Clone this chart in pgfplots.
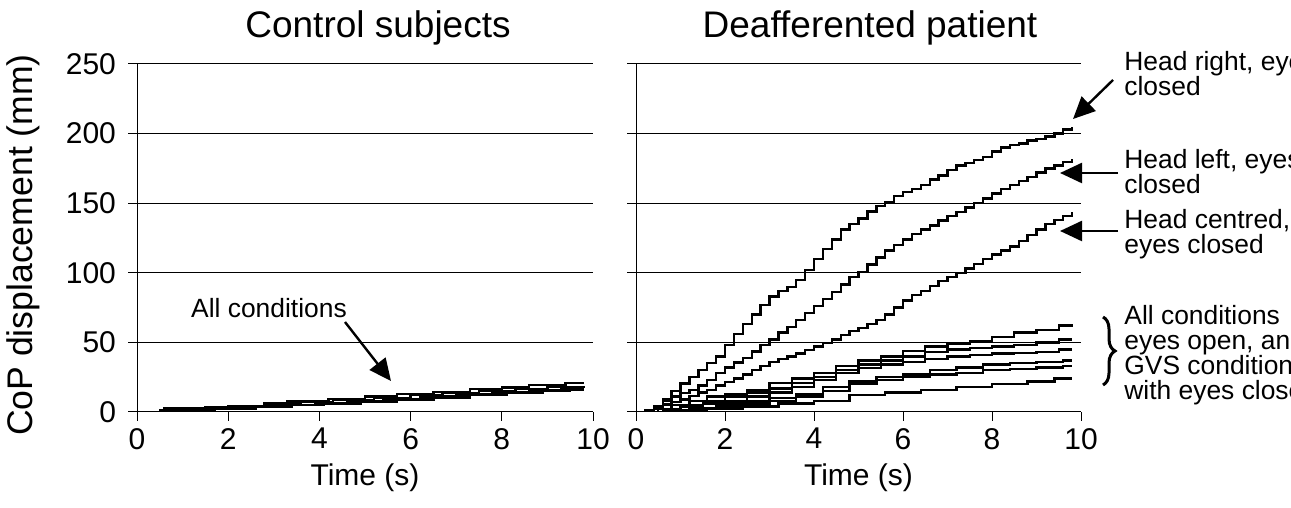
\documentclass[border=0pt]{standalone}
\usepackage{fontspec}
\setmainfont{Liberation Sans}
\usepackage{pgfplots}
\pgfplotsset{compat=1.18}
\usetikzlibrary{arrows.meta,decorations.pathreplacing}

\pgfplotsset{
  panel/.style={
    scale only axis, height=174pt, anchor=south west,
    xmin=0, xmax=10, ymin=0, ymax=250,
    xtick={0,2,...,10}, ytick={0,50,...,250},
    axis x line*=bottom, axis y line*=left,
    ymajorgrids, grid style={black, line width=0.5pt},
    tick align=outside, major tick length=4.5pt,
    tick style={black, line width=0.5pt},
    axis line style={line width=0.5pt},
    const plot,
    cycle list={{black, mark=none}},
    every axis plot/.append style={line width=1.2pt},
    tick label style={font=\fontsize{15}{15}\selectfont},
    yticklabel style={xshift=-2.5pt},
    /pgf/number format/assume math mode=true,
  }
}

\begin{document}
\begin{tikzpicture}
\useasboundingbox (0,0) rectangle (645.5pt,254pt);
\clip (0,0) rectangle (645.5pt,254pt);

% control subjects
\begin{axis}[panel, at={(68.5pt,48pt)}, width=228pt]
  \addplot coordinates {(0,0) (0.6,2.5) (1.5,3.5) (2.0,4.5) (2.8,6) (3.3,7.5) (4.2,9.5) (5.0,11) (5.7,13) (6.5,14.5) (7.3,16.5) (8.0,17.5) (8.6,19.5) (9.4,21) (9.8,21)};
  \addplot coordinates {(0,0) (0.5,1.5) (1.2,3) (2.0,4) (2.9,5.5) (3.6,7) (4.3,8.5) (5.2,10) (6.0,12) (6.7,13.5) (7.5,15) (8.3,16.5) (9.0,18) (9.8,19)};
  \addplot coordinates {(0,0) (0.6,1.5) (1.4,2.5) (2.3,3.5) (3.0,5) (3.9,6.5) (4.6,8) (5.4,9.5) (6.2,11) (7.0,12.5) (7.8,14) (8.6,15.5) (9.3,17) (9.8,17)};
  \addplot coordinates {(0,0) (0.7,1.5) (1.7,2.5) (2.6,3.5) (3.4,5) (4.1,6) (4.9,7.5) (5.7,9) (6.5,10.5) (7.3,12) (8.1,13.5) (8.9,15) (9.5,16) (9.8,16)};
\end{axis}

% deafferented patient
\begin{axis}[panel, at={(318pt,48pt)}, width=222.5pt, yticklabels={}]
  % head right, eyes closed
  \addplot coordinates {(0,0) (0.2,1) (0.4,4) (0.6,9) (0.8,15) (1.0,20.5) (1.2,25) (1.4,30) (1.6,35) (1.8,40)
    (2.0,48) (2.2,56) (2.4,63) (2.6,70) (2.8,77) (3.0,83) (3.2,87) (3.4,90) (3.6,95) (3.8,102)
    (4.0,110) (4.2,117) (4.4,124) (4.6,131) (4.8,135) (5.0,139) (5.2,144) (5.4,148) (5.6,151) (5.8,155)
    (6.0,158) (6.2,160) (6.4,163) (6.6,167) (6.8,170) (7.0,174) (7.2,177) (7.4,179) (7.6,181) (7.8,183)
    (8.0,187) (8.2,190) (8.4,192) (8.6,193) (8.8,195) (9.0,196) (9.2,198) (9.4,200) (9.6,203) (9.8,205)};
  % head left, eyes closed
  \addplot coordinates {(0,0) (0.2,1) (0.4,4) (0.6,8) (0.8,11) (1.0,13.5) (1.2,16) (1.4,19) (1.6,23) (1.8,28)
    (2.0,32) (2.2,35.5) (2.4,39) (2.6,43.5) (2.8,48) (3.0,52) (3.2,57) (3.4,61) (3.6,66) (3.8,71)
    (4.0,76) (4.2,81) (4.4,86) (4.6,91.5) (4.8,97) (5.0,100.5) (5.2,106) (5.4,111) (5.6,116) (5.8,120)
    (6.0,124) (6.2,128) (6.4,131) (6.6,134) (6.8,137.5) (7.0,141) (7.2,143.5) (7.4,147) (7.6,150) (7.8,153.5)
    (8.0,157) (8.2,160) (8.4,163) (8.6,166) (8.8,169) (9.0,172) (9.2,175) (9.4,177) (9.6,179.5) (9.8,182)};
  % head centred, eyes closed
  \addplot coordinates {(0,0) (0.2,1) (0.4,3) (0.6,5.5) (0.8,7) (1.0,9) (1.2,11.5) (1.4,14) (1.6,16) (1.8,19)
    (2.0,21.5) (2.2,24) (2.4,27) (2.6,30) (2.8,33) (3.0,36) (3.2,38) (3.4,40) (3.6,42) (3.8,44.5)
    (4.0,47) (4.2,49.5) (4.4,52) (4.6,55.5) (4.8,58) (5.0,60.5) (5.2,63) (5.4,66) (5.6,70) (5.8,75)
    (6.0,80) (6.2,84) (6.4,87) (6.6,90.5) (6.8,94) (7.0,97) (7.2,100) (7.4,103) (7.6,106.5) (7.8,110)
    (8.0,113) (8.2,116) (8.4,119) (8.6,123) (8.8,127) (9.0,131) (9.2,135) (9.4,138) (9.6,141) (9.8,144)};
  % eyes open and GVS conditions
  \addplot coordinates {(0,0) (0.4,2) (0.8,5) (1.2,8) (1.6,11) (2.0,13) (2.5,16) (3.0,21) (3.5,24) (4.0,28) (4.5,33) (5.0,37) (5.5,40) (6.0,44) (6.5,47) (7.0,49) (7.5,51) (8.0,54) (8.5,57) (9.0,59) (9.5,62) (9.8,63)};
  \addplot coordinates {(0,0) (0.5,2) (1.0,5) (1.5,8) (2.0,11) (2.5,14) (3.0,17) (3.5,21) (4.0,25) (4.5,30) (5.0,34) (5.5,37) (6.0,40) (6.5,43) (7.0,45) (7.5,46) (8.0,47) (8.5,48) (9.0,50) (9.5,52) (9.8,52)};
  \addplot coordinates {(0,0) (0.5,2) (1.0,4) (1.5,6) (2.0,8) (2.5,11) (3.0,14) (3.5,18) (4.0,23) (4.5,28) (5.0,31.5) (5.5,34) (6.0,36) (6.5,38) (7.0,40) (7.5,41) (8.0,42) (8.5,42.5) (9.0,43) (9.5,45) (9.8,45)};
  \addplot coordinates {(0,0) (0.6,1) (1.2,3) (1.8,6) (2.4,8) (3.0,10) (3.6,13) (4.2,18) (4.8,22) (5.4,25) (6.0,27) (6.6,30) (7.2,32) (7.8,34) (8.4,35) (9.0,36) (9.6,37) (9.8,37)};
  \addplot coordinates {(0,0) (0.6,1) (1.2,2.5) (1.8,4) (2.4,6) (3.0,8) (3.6,11) (4.2,15) (4.8,20) (5.4,23) (6.0,25) (6.6,27) (7.2,28) (7.8,30) (8.4,31) (9.0,32) (9.6,33) (9.8,33)};
  \addplot coordinates {(0,0) (0.8,1) (1.6,2) (2.4,4) (3.2,6) (4.0,8) (4.8,12) (5.6,14) (6.4,16) (7.2,18) (8.0,20) (8.8,22) (9.4,24) (9.8,24)};
\end{axis}

% titles and labels
\node[font=\fontsize{18.5}{18.5}\selectfont] at (189pt,240pt) {Control subjects};
\node[font=\fontsize{18.5}{18.5}\selectfont] at (435pt,240pt) {Deafferented patient};
\node[font=\fontsize{15}{15}\selectfont] at (182.5pt,15pt) {Time (s)};
\node[font=\fontsize{15}{15}\selectfont] at (429.25pt,15pt) {Time (s)};
\node[font=\fontsize{17.8}{17.8}\selectfont, rotate=90] at (11.5pt,131.5pt) {CoP displacement (mm)};

% annotations
\begin{scope}[every node/.style={font=\fontsize{13.2}{12.5}\selectfont, align=left, inner sep=0pt, anchor=west},
              arr/.style={line width=1.2pt, -{Triangle[length=11pt,width=10pt]}}]
  \node at (134.5pt,100pt) [anchor=center] {All conditions};
  \draw[arr] (172.5pt,93pt) -- (195.5pt,63.5pt);
  \node at (562pt,217.25pt) {Head right, eyes\\closed};
  \draw[arr] (556.5pt,214pt) -- (536.5pt,194.5pt);
  \node at (562pt,168.25pt) {Head left, eyes\\closed};
  \draw[arr] (559pt,167.5pt) -- (530pt,167.5pt);
  \node at (562pt,136.75pt) {Head centred,\\eyes closed};
  \draw[arr] (559pt,138.5pt) -- (530pt,138.5pt);
  \node at (562pt,76.5pt) {All conditions\\eyes open, and\\GVS conditions\\with eyes closed};
  \draw[line width=1.5pt, decorate, decoration={brace, amplitude=6pt}] (551.5pt,95.5pt) -- (551.5pt,61.5pt);
\end{scope}
\end{tikzpicture}
\end{document}
